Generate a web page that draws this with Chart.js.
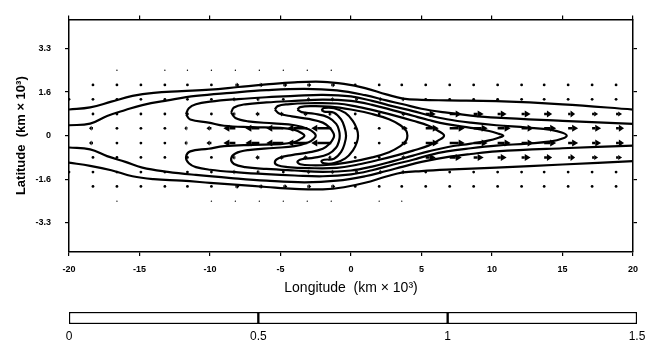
<!DOCTYPE html>
<html>
<head>
<meta charset="utf-8">
<script src="https://cdn.jsdelivr.net/npm/chart.js@4.4.1/dist/chart.umd.min.js"></script>
<style>
  html, body { margin: 0; padding: 0; background: #fff; }
  canvas { display: block; }
</style>
</head>
<body>
<canvas id="main" width="646" height="300"></canvas>
<canvas id="bar" width="646" height="41"></canvas>
<script>
// axis ticks
const xTicks = [-20, -15, -10, -5, 0, 5, 10, 15, 20];
const yTicks = [-3.333, -1.667, 0, 1.667, 3.333];
const yTickLabels = ['-3.3', '-1.6', '0', '1.6', '3.3'];

// vector grid (km x 10^3)
const lonGrid = [-20.0, -18.3, -16.6, -14.9, -13.2, -11.6, -9.9, -8.2, -6.5, -4.8, -3.1, -1.4,
                 0.3, 2.0, 3.6, 5.3, 7.0, 8.7, 10.4, 12.1, 13.7, 15.4, 17.1, 18.8];
const latRows = [2.5, 1.94, 1.39, 0.83, 0.28, -0.28, -0.83, -1.39, -1.94, -2.5];

// zonal wind per row (null = no mark)
const u22N = [null,null,0,null,0,0,0,0,0,0,0,0,null,null,null,null,null,null,null,null,null,null,null,null];
const u17N = [null,0,0,0,0,0,0,4,4,4,4,4,0,0,0,0,0,0,0,0,0,0,0,0];
const u12N = [0,0,0,0,0,0,0,-3,-3,0,3,3,3,3,3,0,0,0,0,0,0,0,0,0];
const u07N = [-3,0,0,0,0,0,0,-3,-4,-4,-4,-3,0,0,4,10,12,10,9,9,8,7,6,6];
const u02N = [-4,-4,0,0,0,-3,-5,-12,-14,-17,-20,-20,0,0,6,13,15,14,13,12,12,10,9,8];
const u02S = [-4,-4,0,0,0,-3,-5,-12,-14,-17,-20,-20,0,0,6,13,15,14,13,12,12,10,9,8];
const u07S = [-3,0,0,0,0,0,0,-3,-4,-4,-4,-3,0,0,4,10,12,10,9,9,8,7,6,6];
const u12S = [0,0,0,0,0,0,0,-3,-3,0,3,3,3,3,3,0,0,0,0,0,0,0,0,0];
const u17S = [null,0,0,0,0,0,0,4,4,4,4,4,0,0,0,0,0,0,0,0,0,0,0,0];
const u22S = [null,null,0,null,null,null,0,0,0,0,0,0,null,0,0,null,null,null,null,null,null,null,null,null];
const windRows = [u22N, u17N, u12N, u07N, u02N, u02S, u07S, u12S, u17S, u22S];

// contour lines [lon, lat]
const contourAN = [[-20,1.0],[-18.5,1.08],[-17,1.3],[-15.5,1.52],[-14,1.64],[-12,1.70],[-10,1.76],[-8,1.86],[-6,1.96],[-4,2.04],[-2,2.06],[-0.5,1.98],[1,1.82],[2.5,1.58],[3.7,1.42],[5,1.37],[6.8,1.35],[10.3,1.32],[15,1.2],[20,1.0]];
const contourAS = [[-20,-1.03],[-18.5,-1.15],[-17,-1.32],[-15.5,-1.55],[-14,-1.66],[-12,-1.72],[-10,-1.8],[-8,-1.88],[-6,-1.96],[-4,-2.03],[-2,-2.05],[-0.5,-1.97],[1,-1.8],[2.5,-1.56],[3.7,-1.4],[5,-1.35],[6.8,-1.3],[10.3,-1.22],[15,-1.1],[20,-0.97]];
const contourBN = [[-20,0.40],[-18.5,0.46],[-17.3,0.75],[-16,0.98],[-14.8,1.17],[-13,1.35],[-11,1.52],[-8.5,1.64],[-6,1.74],[-3.3,1.79],[-1,1.73],[1,1.55],[2.5,1.35],[3.7,1.2],[5,1.03],[6.8,0.88],[8.5,0.77],[10.3,0.69],[15,0.57],[20,0.45]];
const contourBS = [[-20,-0.45],[-18.5,-0.52],[-17.3,-0.78],[-16,-1.0],[-14.8,-1.22],[-13,-1.38],[-11,-1.5],[-8.5,-1.62],[-6,-1.72],[-3.3,-1.78],[-1,-1.72],[1,-1.55],[2.5,-1.35],[3.7,-1.18],[5,-1.0],[6.8,-0.82],[8.5,-0.7],[10.3,-0.6],[15,-0.48],[20,-0.38]];
const contourC0 = [[-11.7,0.82],[-11.5,1.05],[-11,1.2],[-10,1.3],[-8,1.4],[-6,1.47],[-4,1.52],[-2,1.56],[0,1.5],[1.5,1.33],[3,1.12],[4.4,0.94],[5.5,0.78],[6.8,0.63],[8.5,0.5],[10.3,0.4],[12.5,0.31],[14.2,0.22],[15,0.11],[15.3,0],
  [15,-0.11],[14.2,-0.22],[12.5,-0.3],[10.3,-0.38],[8.5,-0.48],[6.8,-0.6],[5.5,-0.75],[4.4,-0.92],[3,-1.1],[1.5,-1.32],[0,-1.48],[-2,-1.55],[-4,-1.52],[-6,-1.47],[-8,-1.4],[-10,-1.3],[-11,-1.2],[-11.5,-1.05],[-11.7,-0.82],
  [-11.4,-0.6],[-10.1,-0.5],[-9,-0.4],[-7,-0.35],[-5,-0.32],[-4,-0.24],[-3.5,-0.1],[-3.3,0],
  [-3.5,0.1],[-4,0.22],[-5,0.3],[-7,0.33],[-9,0.38],[-10.1,0.5],[-11.4,0.62],[-11.7,0.82]];
const contourC1 = [[-8.5,0.88],[-8.3,1.08],[-7.5,1.2],[-6,1.27],[-4,1.33],[-2,1.38],[0,1.33],[1.5,1.18],[3,0.97],[4.4,0.76],[5.5,0.6],[6.8,0.44],[8.5,0.3],[9.8,0.18],[10.5,0.07],[10.8,0],
  [10.5,-0.07],[9.8,-0.18],[8.5,-0.3],[6.8,-0.44],[5.5,-0.6],[4.4,-0.76],[3,-0.97],[1.5,-1.18],[0,-1.33],[-2,-1.38],[-4,-1.33],[-6,-1.27],[-7.5,-1.2],[-8.3,-1.08],[-8.5,-0.88],
  [-8.2,-0.68],[-7.3,-0.55],[-5.5,-0.47],[-4,-0.4],[-3,-0.25],[-2.6,-0.1],[-2.5,0],
  [-2.6,0.1],[-3,0.25],[-4,0.4],[-5.5,0.47],[-7.3,0.55],[-8.2,0.68],[-8.5,0.88]];
const contourC2 = [[-5.4,1.0],[-5.2,1.13],[-4.5,1.2],[-3,1.24],[-1,1.23],[0.5,1.1],[2,0.92],[3.3,0.74],[4.4,0.57],[5.5,0.38],[6.2,0.18],[6.6,0],
  [6.2,-0.18],[5.5,-0.38],[4.4,-0.57],[3.3,-0.74],[2,-0.92],[0.5,-1.1],[-1,-1.23],[-3,-1.24],[-4.5,-1.2],[-5.2,-1.13],[-5.4,-1.0],
  [-5.1,-0.85],[-4.2,-0.74],[-3,-0.64],[-2,-0.5],[-1.5,-0.3],[-1.25,-0.1],[-1.2,0],
  [-1.25,0.1],[-1.5,0.3],[-2,0.5],[-3,0.64],[-4.2,0.74],[-5.1,0.85],[-5.4,1.0]];
const contourC3 = [[-3.8,1.0],[-3.6,1.09],[-2.8,1.13],[-1.5,1.11],[0,1.0],[1.5,0.83],[2.7,0.63],[3.5,0.4],[3.9,0.2],[4.0,0],
  [3.9,-0.2],[3.5,-0.4],[2.7,-0.63],[1.5,-0.83],[0,-1.0],[-1.5,-1.11],[-2.8,-1.13],[-3.6,-1.09],[-3.8,-1.0],
  [-3.5,-0.9],[-2.6,-0.84],[-1.6,-0.7],[-1.05,-0.45],[-0.85,-0.2],[-0.8,0],
  [-0.85,0.2],[-1.05,0.45],[-1.6,0.7],[-2.6,0.84],[-3.5,0.9],[-3.8,1.0]];
const contourC4 = [[-2.1,0.98],[-1.9,1.06],[-1.2,1.05],[-0.4,0.87],[0.15,0.55],[0.42,0.25],[0.5,0],
  [0.42,-0.25],[0.15,-0.55],[-0.4,-0.87],[-1.2,-1.05],[-1.9,-1.06],[-2.1,-0.98],
  [-1.9,-0.92],[-1.2,-0.88],[-0.7,-0.62],[-0.45,-0.3],[-0.35,0],
  [-0.45,0.3],[-0.7,0.62],[-1.2,0.88],[-1.9,0.92],[-2.1,0.98]];
const contours = [contourAN, contourAS, contourBN, contourBS, contourC0, contourC1, contourC2, contourC3, contourC4];

// colour bar
const barTicks = [0, 0.5, 1, 1.5];
const barSegments = [0.5, 0.5, 0.5];

Chart.defaults.font.family = "'Liberation Sans', Arial, sans-serif";
Chart.defaults.color = '#000';

const ARROW_SCALE = 1;

const arrowPlugin = {
  id: 'arrows',
  afterDatasetsDraw(chart) {
    const {ctx, chartArea, scales} = chart;
    ctx.save();
    ctx.beginPath();
    ctx.rect(chartArea.left, chartArea.top, chartArea.right - chartArea.left, chartArea.bottom - chartArea.top);
    ctx.clip();
    ctx.fillStyle = '#000';
    ctx.strokeStyle = '#000';
    windRows.forEach(function(row, r){
      const py = scales.y.getPixelForValue(latRows[r]);
      const edge = Math.abs(latRows[r]) > 2.2;
      row.forEach(function(u, k){
        if (u === null) return;
        const px = scales.x.getPixelForValue(lonGrid[k]);
        const len = Math.abs(u) * ARROW_SCALE;
        if (len < 2.5) {
          ctx.beginPath();
          ctx.arc(px, py, edge ? 0.7 : 1.4, 0, Math.PI * 2);
          ctx.fill();
          return;
        }
        const dir = u > 0 ? 1 : -1;
        const tip = px + dir * len;
        const head = Math.min(6, len * 0.65);
        const hw = len >= 7 ? 3.5 : 2.5;
        ctx.lineWidth = 2.5;
        ctx.beginPath();
        ctx.moveTo(px, py);
        ctx.lineTo(tip - dir * head, py);
        ctx.stroke();
        ctx.beginPath();
        ctx.moveTo(tip, py);
        ctx.lineTo(tip - dir * head, py - hw);
        ctx.lineTo(tip - dir * head, py + hw);
        ctx.closePath();
        ctx.fill();
      });
    });
    ctx.restore();
  }
};

const tickFont = {size: 9, weight: 'bold'};
const gridOpts = {display: true, drawOnChartArea: false, drawTicks: true, tickLength: 4, color: '#000', lineWidth: 1.2};
const borderOpts = {display: true, color: '#000', width: 1.5};

new Chart(document.getElementById('main'), {
  type: 'scatter',
  data: {
    datasets: contours.map(function(pts){
      return {
        data: pts.map(function(p){ return {x: p[0], y: p[1]}; }),
        showLine: true,
        borderColor: '#000',
        borderWidth: 2.2,
        pointRadius: 0,
        tension: 0.4,
        fill: false
      };
    })
  },
  options: {
    responsive: false,
    animation: false,
    devicePixelRatio: 1,
    layout: {padding: 0},
    plugins: {legend: {display: false}, tooltip: {enabled: false}},
    scales: {
      x: {
        type: 'linear', position: 'bottom', min: -20, max: 20,
        afterBuildTicks: function(s){ s.ticks = xTicks.map(function(v){ return {value: v}; }); },
        ticks: {font: tickFont, color: '#000', padding: 8, maxRotation: 0, callback: function(v){ return String(v); }},
        grid: gridOpts, border: borderOpts,
        title: {display: true, text: 'Longitude  (km × 10³)', font: {size: 14}, color: '#000', padding: {top: 0, bottom: 3}},
        afterFit: function(s){ s.height = 48; }
      },
      x2: {
        type: 'linear', position: 'top', min: -20, max: 20,
        afterBuildTicks: function(s){ s.ticks = xTicks.map(function(v){ return {value: v}; }); },
        ticks: {display: false},
        grid: gridOpts, border: borderOpts,
        afterFit: function(s){ s.height = 15; }
      },
      y: {
        type: 'linear', position: 'left', min: -4.444, max: 4.444,
        afterBuildTicks: function(s){ s.ticks = yTicks.map(function(v){ return {value: v}; }); },
        ticks: {font: tickFont, color: '#000', padding: 14, callback: function(v){ return yTickLabels[yTicks.indexOf(v)]; }},
        grid: gridOpts, border: borderOpts,
        title: {display: true, text: 'Latitude  (km × 10³)', font: {size: 13, weight: 'bold'}, color: '#000', padding: {top: 14, bottom: 0}},
        afterFit: function(s){ s.width = 69; }
      },
      y2: {
        type: 'linear', position: 'right', min: -4.444, max: 4.444,
        afterBuildTicks: function(s){ s.ticks = yTicks.map(function(v){ return {value: v}; }); },
        ticks: {display: false},
        grid: gridOpts, border: borderOpts,
        afterFit: function(s){ s.width = 8; }
      }
    }
  },
  plugins: [arrowPlugin]
});

new Chart(document.getElementById('bar'), {
  type: 'bar',
  data: {
    labels: [''],
    datasets: barSegments.map(function(v){
      return {data: [v], backgroundColor: '#fff', borderColor: '#000', borderWidth: 1.5, borderSkipped: false, barThickness: 12};
    })
  },
  options: {
    indexAxis: 'y',
    responsive: false,
    animation: false,
    devicePixelRatio: 1,
    layout: {padding: {left: 69, right: 9, top: 12}},
    plugins: {legend: {display: false}, tooltip: {enabled: false}},
    scales: {
      x: {
        stacked: true, min: 0, max: 1.5,
        afterBuildTicks: function(s){ s.ticks = barTicks.map(function(v){ return {value: v}; }); },
        ticks: {font: {size: 12}, color: '#000', padding: 5, maxRotation: 0, callback: function(v){ return String(v); }},
        grid: {display: false, drawTicks: false}, border: {display: false},
        afterFit: function(s){ s.height = 17; s.paddingLeft = 0; s.paddingRight = 0; }
      },
      y: {stacked: true, display: false}
    }
  }
});
</script>
</body>
</html>
